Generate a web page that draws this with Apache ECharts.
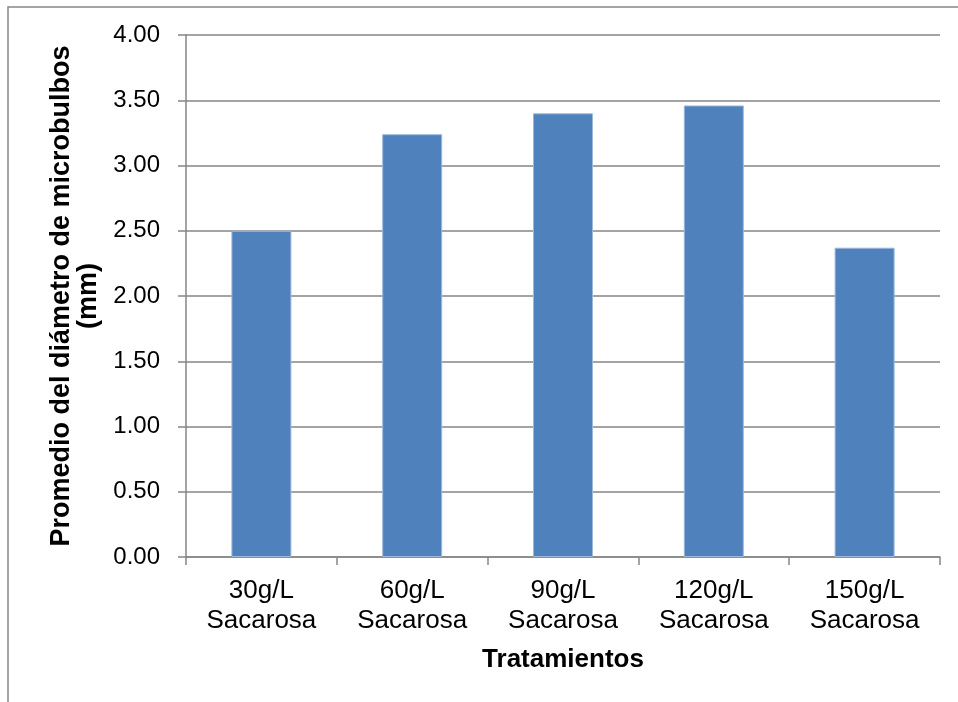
<!DOCTYPE html>
<html>
<head>
<meta charset="utf-8">
<script src="https://cdn.jsdelivr.net/npm/echarts@6/dist/echarts.min.js"></script>
<style>
  html, body { margin: 0; padding: 0; background: #ffffff; }
  #chart { width: 958px; height: 702px; }
</style>
</head>
<body>
<div id="chart"></div>
<script>
// Treatments (sucrose concentration) and mean microbulb diameter in mm
const categories = ['30g/L\nSacarosa', '60g/L\nSacarosa', '90g/L\nSacarosa', '120g/L\nSacarosa', '150g/L\nSacarosa'];
const diameters = [2.50, 3.24, 3.40, 3.46, 2.37];
const yTitle = 'Promedio del diámetro de microbulbos\n(mm)';
const xTitle = 'Tratamientos';

const gray = '#868686';
const font = 'Liberation Sans, Arial, sans-serif';

const chart = echarts.init(document.getElementById('chart'), null, { renderer: 'canvas' });

chart.setOption({
  animation: false,
  backgroundColor: '#ffffff',
  graphic: [{
    type: 'rect',
    shape: { x: 8, y: 7, width: 1200, height: 1200 },
    style: { fill: 'none', stroke: gray, lineWidth: 1.5 },
    silent: true
  }],
  grid: { left: 186, right: 18, top: 35, bottom: 145, containLabel: false },
  xAxis: {
    type: 'category',
    data: categories,
    axisLine: { show: true, lineStyle: { color: gray, width: 1.5 } },
    axisTick: { show: true, length: 8, alignWithLabel: false, lineStyle: { color: gray, width: 1.5 } },
    axisLabel: {
      color: '#000000', fontFamily: font, fontSize: 26, lineHeight: 30, margin: 19, interval: 0
    },
    name: xTitle,
    nameLocation: 'middle',
    nameGap: 90,
    nameTextStyle: { color: '#000000', fontFamily: font, fontSize: 26, fontWeight: 'bold' }
  },
  yAxis: {
    type: 'value',
    min: 0,
    max: 4,
    interval: 0.5,
    axisLine: { show: true, lineStyle: { color: gray, width: 1.5 } },
    axisTick: { show: true, length: 8, lineStyle: { color: gray, width: 1.5 } },
    splitLine: { show: true, lineStyle: { color: gray, width: 1.5 } },
    axisLabel: {
      color: '#000000', fontFamily: font, fontSize: 24, margin: 26,
      formatter: v => v.toFixed(2)
    },
    name: yTitle,
    nameLocation: 'middle',
    nameRotate: 90,
    nameGap: 70,
    nameTextStyle: { color: '#000000', fontFamily: font, fontSize: 27, fontWeight: 'bold', lineHeight: 27 }
  },
  series: [{
    type: 'bar',
    data: diameters,
    barWidth: 60,
    itemStyle: { color: '#4F81BD', borderColor: '#9DB8DC', borderWidth: 1 }
  }]
});
</script>
</body>
</html>
